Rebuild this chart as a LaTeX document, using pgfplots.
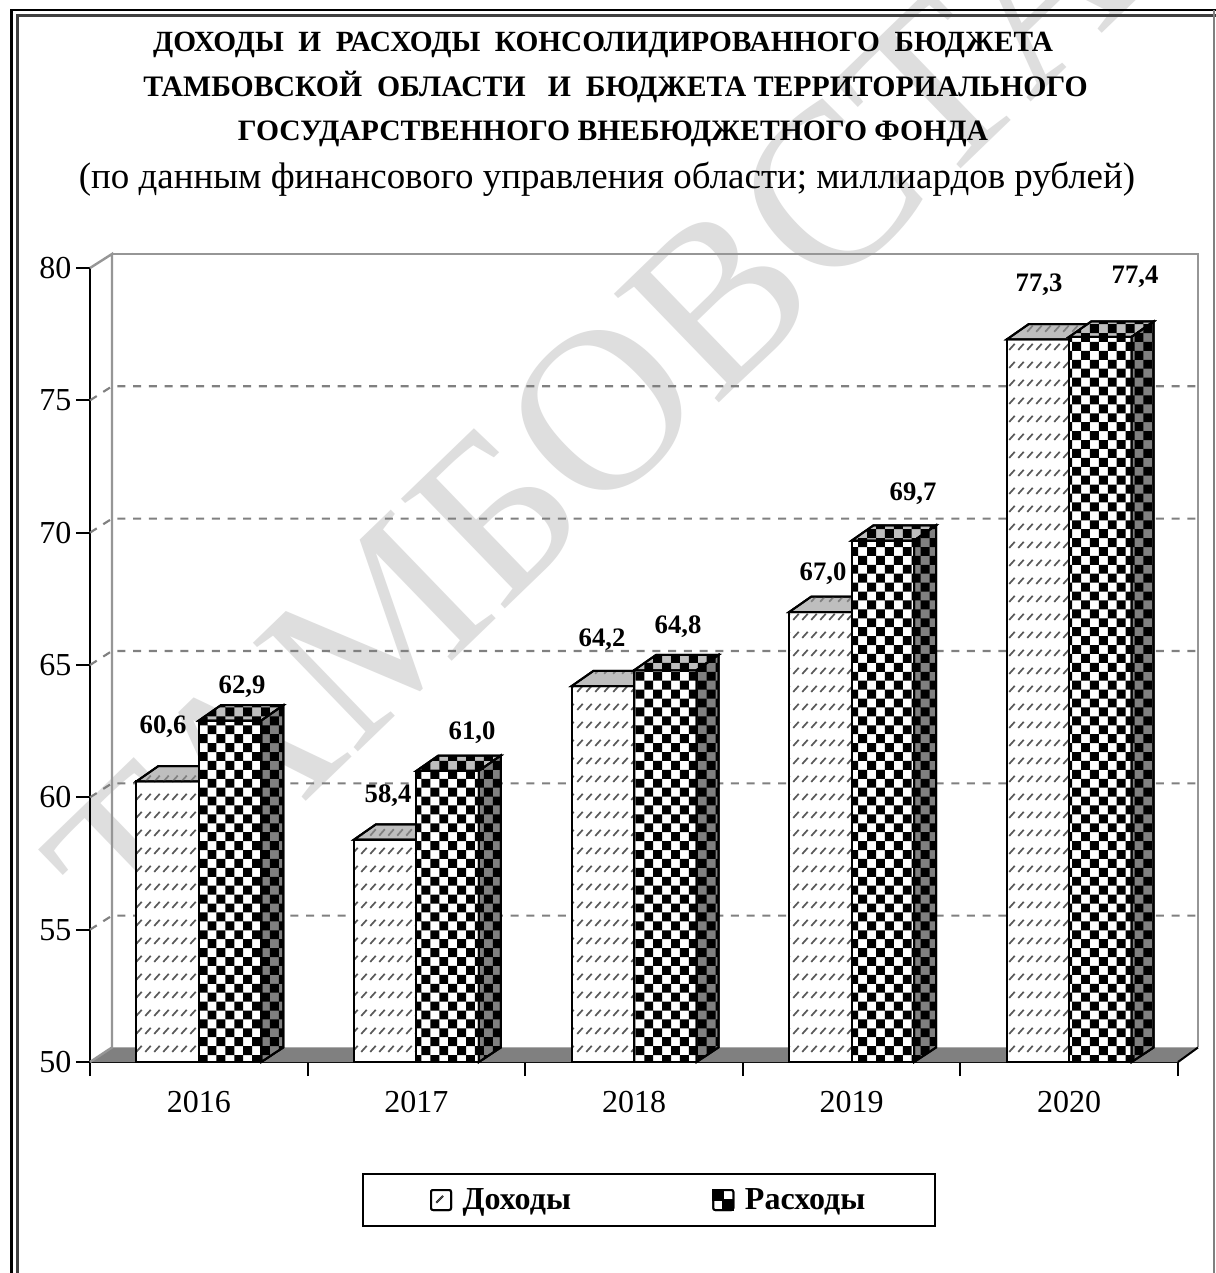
\documentclass[border=0pt]{standalone}
\usepackage{fontspec}
\setmainfont{Liberation Serif}
\usepackage{pgfplots}
\usepackage{pgfplotstable}
\pgfplotsset{compat=1.18}
\usetikzlibrary{patterns}

\definecolor{wmark}{RGB}{222,222,222}
\definecolor{wall}{RGB}{150,150,150}
\definecolor{floorc}{RGB}{128,128,128}
\definecolor{topc}{RGB}{190,190,190}

% 1 px of the reference = 0.75pt
\pgfdeclarepatternformonly{checks}{\pgfqpoint{1.9pt}{3pt}}{\pgfqpoint{15.27pt}{16.37pt}}{\pgfqpoint{13.37pt}{13.37pt}}{%
  \pgfpathrectangle{\pgfqpoint{8.585pt}{3pt}}{\pgfqpoint{6.685pt}{6.685pt}}%
  \pgfpathrectangle{\pgfqpoint{1.9pt}{9.685pt}}{\pgfqpoint{6.685pt}{6.685pt}}%
  \pgfusepath{fill}}
\pgfdeclarepatternformonly{hatchrows}{\pgfqpoint{0pt}{0pt}}{\pgfqpoint{6.75pt}{13.5pt}}{\pgfqpoint{6.75pt}{13.5pt}}{%
  \pgfsetlinewidth{1.4pt}%
  \pgfpathmoveto{\pgfqpoint{1pt}{4pt}}%
  \pgfpathlineto{\pgfqpoint{5.6pt}{8.8pt}}%
  \pgfusepath{stroke}}

\pgfplotstableread{
x    inc   exp
0.5  60.6  62.9
1.5  58.4  61.0
2.5  64.2  64.8
3.5  67.0  69.7
4.5  77.3  77.4
}\budget

% depth of the 3D look, in axis units
\def\ddx{0.1011}
\def\ddy{0.58}
\def\bw{0.2872}

\newcommand\incTop[2]{%
  \pgfmathsetmacro\xa{#1-\bw}\pgfmathsetmacro\xc{#1+\ddx}\pgfmathsetmacro\xd{#1-\bw+\ddx}\pgfmathsetmacro\yb{#2+\ddy}%
  \addplot[forget plot,draw=black,line width=1.5pt,preaction={fill=topc},pattern=hatchrows,pattern color=black!50]
    coordinates {(\xa,#2)(#1,#2)(\xc,\yb)(\xd,\yb)} --cycle;}
\newcommand\expFaces[2]{%
  \pgfmathsetmacro\xb{#1+\bw}\pgfmathsetmacro\xc{#1+\ddx}\pgfmathsetmacro\xd{#1+\bw+\ddx}\pgfmathsetmacro\yb{#2+\ddy}%
  \addplot[forget plot,draw=black,line width=1.5pt,preaction={fill=topc},pattern=checks,pattern color=black]
    coordinates {(#1,#2)(\xb,#2)(\xd,\yb)(\xc,\yb)} --cycle;
  \addplot[forget plot,draw=black,line width=1.5pt,preaction={fill=floorc},pattern=checks,pattern color=black]
    coordinates {(\xb,50)(\xb,#2)(\xd,\yb)(\xd,50.55)} --cycle;}

\begin{document}
\begin{tikzpicture}[x=0.75pt,y=-0.75pt]
\path[use as bounding box] (0,0) rectangle (1215,1273);
\fill[white] (0,0) rectangle (1215,1273);

% watermark
\node[rotate=44,anchor=base west,text=wmark,font=\fontsize{173}{173}\selectfont,inner sep=0pt] at (140,962) {ТАМБОВСТАТ};

% frame
\draw[line width=1.9pt] (11.5,1280) -- (11.5,10) -- (1220,10);
\draw[line width=1.9pt,black!75] (17.3,1280) -- (17.3,15.5) -- (1220,15.5);
\draw[line width=1pt,black!50] (1214,10) -- (1214,1280);

% title
\begin{scope}[every node/.style={inner sep=0pt,anchor=base}]
\node[font=\fontsize{22}{26}\selectfont\bfseries] at (603,52) {ДОХОДЫ\ \ И\ \ РАСХОДЫ\ \ КОНСОЛИДИРОВАННОГО\ \ БЮДЖЕТА};
\node[font=\fontsize{22.3}{26}\selectfont\bfseries] at (615.5,97) {ТАМБОВСКОЙ\ \ ОБЛАСТИ\ \ \ И\ \ БЮДЖЕТА ТЕРРИТОРИАЛЬНОГО};
\node[font=\fontsize{22.2}{26}\selectfont\bfseries] at (613,141) {ГОСУДАРСТВЕННОГО ВНЕБЮДЖЕТНОГО ФОНДА};
\node[font=\fontsize{27.7}{32}\selectfont] at (607,189) {(по данным финансового управления области; миллиардов рублей)};
\end{scope}

\begin{axis}[
  at={(67.5pt,-796.5pt)}, anchor=south west,
  scale only axis, width=816pt, height=595.5pt,
  xmin=0, xmax=5, ymin=50, ymax=80, clip=false,
  axis x line=bottom, axis y line=left,
  axis line style={-,black,line width=1.5pt},
  tick style={black,line width=1.5pt},
  tick align=outside, major tick length=10.5pt,
  xtick={0,...,5}, xticklabels={},
  extra x ticks={0.5,1.5,2.5,3.5,4.5},
  extra x tick labels={2016,2017,2018,2019,2020},
  extra x tick style={major tick length=0pt,xticklabel style={yshift=-18pt}},
  ytick={50,55,...,80},
  tick label style={font=\fontsize{24}{28}\selectfont},
  /pgf/number format/assume math mode=true,
  legend style={at={(0.5138,-0.1738)},anchor=center,legend columns=2,
    draw=black,line width=1.5pt,font=\fontsize{24}{28}\selectfont\bfseries,
    inner xsep=50pt,inner ysep=9pt,
    /tikz/every even column/.append style={column sep=104pt}},
]
% floor and walls
\addplot[forget plot,draw=none,fill=floorc] coordinates {(0,50)(5,50)(5.092,50.55)(0.1011,50.55)} --cycle;
\addplot[forget plot,wall,line width=1.8pt] coordinates {(0,50)(0.1011,50.55)(0.1011,80.53)(0,80)};
\addplot[forget plot,wall,line width=1.8pt] coordinates {(5.092,50.55)(5.092,80.53)(0.1011,80.53)};
\addplot[forget plot,black,line width=1.5pt] coordinates {(5,50)(5.092,50.55)};
% dashed grid on the back wall
\pgfplotsinvokeforeach{55,60,65,70,75}{
  \pgfmathsetmacro\vb{#1+0.53}
  \addplot[forget plot,floorc,line width=1.6pt,dash pattern=on 6pt off 5.8pt] coordinates {(0,#1)(0.1011,\vb)(5.092,\vb)};
}
% incomes
\addplot[ybar,bar width=0.2872,bar shift=-0.1436,draw=black,line width=1.5pt,preaction={fill=white},pattern=hatchrows,pattern color=black!65,
  legend image code/.code={\draw[black,line width=1.5pt,fill=white,rounded corners=1.5pt] (0pt,-7.5pt) rectangle (15pt,7.5pt);\draw[black!70,line width=.9pt] (4pt,-2pt)--(9pt,3pt);}]
  table[x=x,y=inc] {\budget};
\addlegendentry{\hspace{6pt}Доходы}
\incTop{0.5}{60.6}
\incTop{1.5}{58.4}
\incTop{2.5}{64.2}
\incTop{3.5}{67.0}
\incTop{4.5}{77.3}
% expenses
\addplot[ybar,bar width=0.2872,bar shift=0.1436,draw=black,line width=1.5pt,preaction={fill=white},pattern=checks,pattern color=black,
  legend image code/.code={\draw[black,line width=1.5pt,fill=white,rounded corners=1.5pt] (0pt,-7.5pt) rectangle (15pt,7.5pt);\fill[black] (0pt,0pt) rectangle (7.5pt,7.5pt);\fill[black] (7.5pt,-7.5pt) rectangle (15pt,0pt);}]
  table[x=x,y=exp] {\budget};
\addlegendentry{\hspace{6pt}Расходы}
\expFaces{0.5}{62.9}
\expFaces{1.5}{61.0}
\expFaces{2.5}{64.8}
\expFaces{3.5}{69.7}
\expFaces{4.5}{77.4}
\end{axis}

% value labels
\begin{scope}[every node/.style={inner sep=0pt,font=\fontsize{20}{24}\selectfont\bfseries}]
\node at (163,727) {60,6};
\node at (242,687) {62,9};
\node at (388,796) {58,4};
\node at (472,733) {61,0};
\node at (602,640) {64,2};
\node at (678,627) {64,8};
\node at (823,574) {67,0};
\node at (913,494) {69,7};
\node at (1039,285) {77,3};
\node at (1135,277) {77,4};
\end{scope}
\end{tikzpicture}
\end{document}
